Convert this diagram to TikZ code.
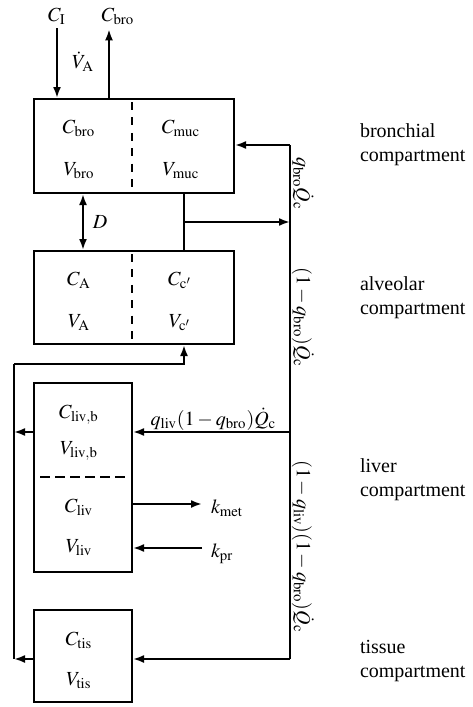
\documentclass[tikz,border=0pt]{standalone}
\usepackage{mathptmx}
\usepackage{fontspec}
\setmainfont{Liberation Serif}
\usetikzlibrary{arrows.meta}
\begin{document}
\begin{tikzpicture}[x=0.5pt,y=-0.5pt, line width=1pt,
  box/.style={draw, line width=1pt, inner sep=0pt},
  flow/.style={-{Latex[length=5.5pt,width=4pt]}},
  twoway/.style={{Latex[length=5.5pt,width=4pt]}-{Latex[length=5.5pt,width=4pt]}},
  lbl/.style={inner sep=0pt, anchor=base},
  cmp/.style={inner sep=0pt, anchor=north west, align=left},
  vlbl/.style={rotate=-90, inner sep=0pt},
  vdash/.style={line width=1pt, dash pattern=on 4pt off 3.7pt},
  hdash/.style={line width=1pt, dash pattern=on 5pt off 2.5pt}]
\useasboundingbox (0,0) rectangle (472,707);

% boxes
\node[box, minimum width=100pt, minimum height=47pt] (bro) at (134,146) {};
\node[box, minimum width=100pt, minimum height=46.5pt] (alv) at (134,297.5) {};
\node[box, minimum width=49pt, minimum height=94.5pt] (liv) at (83,477.5) {};
\node[box, minimum width=49pt, minimum height=46pt] (tis) at (83,656) {};

% internal dashed separators
\draw[vdash] (132,102) -- (132,187);
\draw[vdash] (132,254) -- (132,339);
\draw[hdash] (40,477) -- (125,477);

% box contents
\node[lbl] (cbro) at (79,133) {$C_{\mathrm{bro}}$};
\node[lbl] (vbro) at (79,175) {$V_{\mathrm{bro}}$};
\node[lbl] (cmuc) at (181,133) {$C_{\mathrm{muc}}$};
\node[lbl] (vmuc) at (181,175) {$V_{\mathrm{muc}}$};
\node[lbl] (ca) at (79,285) {$C_{\mathrm{A}}$};
\node[lbl] (va) at (79,327) {$V_{\mathrm{A}}$};
\node[lbl] (cc) at (180,285) {$C_{\mathrm{c}'}$};
\node[lbl] (vc) at (180,327) {$V_{\mathrm{c}'}$};
\node[lbl] (clivb) at (79,418) {$C_{\mathrm{liv,b}}$};
\node[lbl] (vlivb) at (79,454) {$V_{\mathrm{liv,b}}$};
\node[lbl] (cliv) at (79,512) {$C_{\mathrm{liv}}$};
\node[lbl] (vliv) at (79,552) {$V_{\mathrm{liv}}$};
\node[lbl] (ctis) at (79,645) {$C_{\mathrm{tis}}$};
\node[lbl] (vtis) at (79,685) {$V_{\mathrm{tis}}$};

% outside labels
\node[lbl] (CI) at (57,21) {$C_{\mathrm{I}}$};
\node[lbl] (Cout) at (118,21) {$C_{\mathrm{bro}}$};
\node[lbl] (VA) at (83,68) {$\dot{V}_{\mathrm{A}}$};
\node[lbl] (D) at (100,228) {$D$};
\node[lbl] (qliv) at (213.5,425) {$q_{\mathrm{liv}}(1-q_{\mathrm{bro}})\dot{Q}_{\mathrm{c}}$};
\node[inner sep=0pt, anchor=base west] (kmet) at (210,513) {$k_{\mathrm{met}}$};
\node[inner sep=0pt, anchor=base west] (kpr) at (210,557) {$k_{\mathrm{pr}}$};
\node[vlbl] (qbro) at (303,183.5) {$q_{\mathrm{bro}}\dot{Q}_{\mathrm{c}}$};
\node[vlbl] (qalv) at (303,317.5) {$(1-q_{\mathrm{bro}})\dot{Q}_{\mathrm{c}}$};
\node[vlbl] (qrest) at (303,546.5) {$(1-q_{\mathrm{liv}})(1-q_{\mathrm{bro}})\dot{Q}_{\mathrm{c}}$};

% compartment names
\node[cmp] (nbro) at (359,123) {bronchial\\compartment};
\node[cmp] (nalv) at (359,276) {alveolar\\compartment};
\node[cmp] (nliv) at (359,458) {liver\\compartment};
\node[cmp] (ntis) at (359,639) {tissue\\compartment};

% helper coordinates
\coordinate (ox) at (109,0);
\coordinate (dx) at (83,0);
\coordinate (mx) at (184,0);
\coordinate (jn) at (184,222);
\coordinate (rtop) at (290,145);
\coordinate (rbot) at (290,659);
\coordinate (ltop) at (14,364);
\coordinate (lbot) at (14,659);
\coordinate (lvy) at (0,432);
\coordinate (tsy) at (0,659);
\coordinate (kme) at (202,504);
\coordinate (kpe) at (202,548);

% connectors
\draw[flow, shorten <=1.5pt] (CI) -- (CI |- bro.north);
\draw[flow, shorten >=2pt] (bro.north -| ox) -- (ox |- Cout.south);
\draw[twoway] (bro.south -| dx) -- (alv.north -| dx);
\draw (bro.south -| mx) -- (alv.north -| mx);
\draw[flow] (jn) -- (jn -| rtop);
\draw (rtop) -- (rbot);
\draw[flow] (rtop) -- (rtop -| bro.east);
\draw[flow] (lvy -| rtop) -- (lvy -| liv.east);
\draw[flow] (rbot) -- (tsy -| tis.east);
\draw[flow] (ltop) -| (alv.south -| mx);
\draw (ltop) -- (lbot);
\draw[flow] (lvy -| liv.west) -- (lvy -| ltop);
\draw[flow] (tsy -| tis.west) -- (lbot);
\draw[flow] (kme -| liv.east) -- (kme);
\draw[flow] (kpe) -- (kpe -| liv.east);
\end{tikzpicture}
\end{document}
